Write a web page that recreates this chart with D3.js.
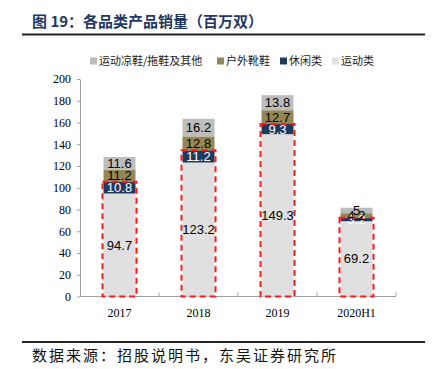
<!DOCTYPE html>
<html><head><meta charset="utf-8">
<script src="https://cdn.jsdelivr.net/npm/d3@7"></script>
<style>body{margin:0;background:#fff}svg{display:block}</style>
</head><body><svg id="c" width="433" height="369"></svg>
<script>
const categories = ["2017","2018","2019","2020H1"];
const sport   = [94.7, 123.2, 149.3, 69.2];
const casual  = [10.8, 11.2, 9.3, 3.2];
const outdoor = [11.2, 12.8, 12.7, 4.2];
const other   = [11.6, 16.2, 13.8, 5];
const seriesNames = ["运动类","休闲类","户外靴鞋","运动凉鞋/拖鞋及其他"];
const legendOrder = ["运动凉鞋/拖鞋及其他","户外靴鞋","休闲类","运动类"];
const yTicks = [0,20,40,60,80,100,120,140,160,180,200];

const colors = {"运动类":"#e0e0e0","休闲类":"#1f3a5f","户外靴鞋":"#938756","运动凉鞋/拖鞋及其他":"#bdbdbd"};
const labelColors = {"运动类":"#000","休闲类":"#fff","户外靴鞋":"#000","运动凉鞋/拖鞋及其他":"#000"};

const svg = d3.select("#c");
const cn = "'Noto Sans CJK SC', sans-serif";

// Title
svg.append("text").attr("x",32).attr("y",26.5).attr("fill","#1f3864")
  .attr("font-family",cn).attr("font-weight","bold").attr("font-size",15)
  .text("图 19：各品类产品销量（百万双）");
svg.append("line").attr("x1",22).attr("x2",425).attr("y1",34.5).attr("y2",34.5)
  .attr("stroke","#222").attr("stroke-width",2);
svg.append("line").attr("x1",22).attr("x2",425).attr("y1",342).attr("y2",342)
  .attr("stroke","#222").attr("stroke-width",2);
svg.append("text").attr("x",32).attr("y",361).attr("fill","#111")
  .attr("font-family",cn).attr("font-size",15).attr("letter-spacing",2)
  .text("数据来源：招股说明书，东吴证券研究所");

const xb = d3.scaleBand().domain(categories).range([80,396]);
const y = d3.scaleLinear().domain([0,200]).range([296.5,79]);

// axes
const yAxis = d3.axisLeft(y).tickValues(yTicks).tickSize(3).tickSizeOuter(0);
const gy = svg.append("g").attr("transform","translate(80,0)").call(yAxis);
gy.selectAll("path,line").attr("stroke","#a0a0a0");
gy.selectAll("text").attr("font-family","'Liberation Serif', serif").attr("font-size",12).attr("fill","#000").attr("dx",-3);

const gx = svg.append("g").attr("transform","translate(0,296.5)");
gx.append("line").attr("x1",80).attr("x2",396).attr("stroke","#a0a0a0");
const bounds = categories.map(c=>xb(c)+xb.bandwidth());
gx.selectAll("line.t").data(bounds).enter().append("line").attr("class","t")
  .attr("x1",d=>d).attr("x2",d=>d).attr("y1",0).attr("y2",-4).attr("stroke","#a0a0a0");
gx.selectAll("text").data(categories).enter().append("text")
  .attr("x",d=>xb(d)+xb.bandwidth()/2).attr("y",20).attr("text-anchor","middle")
  .attr("font-family","'Liberation Serif', serif").attr("font-size",12).text(d=>d);

// stacked data
const table = categories.map((c,i)=>({cat:c,"运动类":sport[i],"休闲类":casual[i],"户外靴鞋":outdoor[i],"运动凉鞋/拖鞋及其他":other[i]}));
const stack = d3.stack().keys(seriesNames)(table);

const bw = 32;
const cx = c => xb(c)+xb.bandwidth()/2;
stack.forEach(s=>{
  const g = svg.append("g");
  g.selectAll("rect").data(s).enter().append("rect")
    .attr("x",d=>cx(d.data.cat)-bw/2).attr("width",bw)
    .attr("y",d=>y(d[1])).attr("height",d=>y(d[0])-y(d[1]))
    .attr("fill",colors[s.key]);
});

// red dashed boxes around sport + casual
svg.append("g").selectAll("rect").data(table).enter().append("rect")
  .attr("x",d=>cx(d.cat)-bw/2-1).attr("width",bw+2)
  .attr("y",d=>y(d["运动类"]+d["休闲类"])).attr("height",d=>y(0)-y(d["运动类"]+d["休闲类"]))
  .attr("fill","none").attr("stroke","#ff1a1a").attr("stroke-width",2).attr("stroke-dasharray","6,4");

// labels
stack.forEach(s=>{
  svg.append("g").selectAll("text").data(s).enter().append("text")
    .attr("x",d=>cx(d.data.cat)).attr("y",d=>(y(d[0])+y(d[1]))/2+4.5)
    .attr("text-anchor","middle").attr("font-family","'Liberation Sans', Arial, sans-serif")
    .attr("font-size",13).attr("fill",labelColors[s.key])
    .text(d=>d.data[s.key]);
});

// legend
const lx = [90,217,280,332];
const lg = svg.append("g");
legendOrder.forEach((n,i)=>{
  lg.append("rect").attr("x",lx[i]).attr("y",57.5).attr("width",7).attr("height",7).attr("fill",colors[n]);
  lg.append("text").attr("x",lx[i]+9).attr("y",65).attr("font-family",cn).attr("font-size",11).attr("fill","#222").text(n);
});
</script></body></html>
